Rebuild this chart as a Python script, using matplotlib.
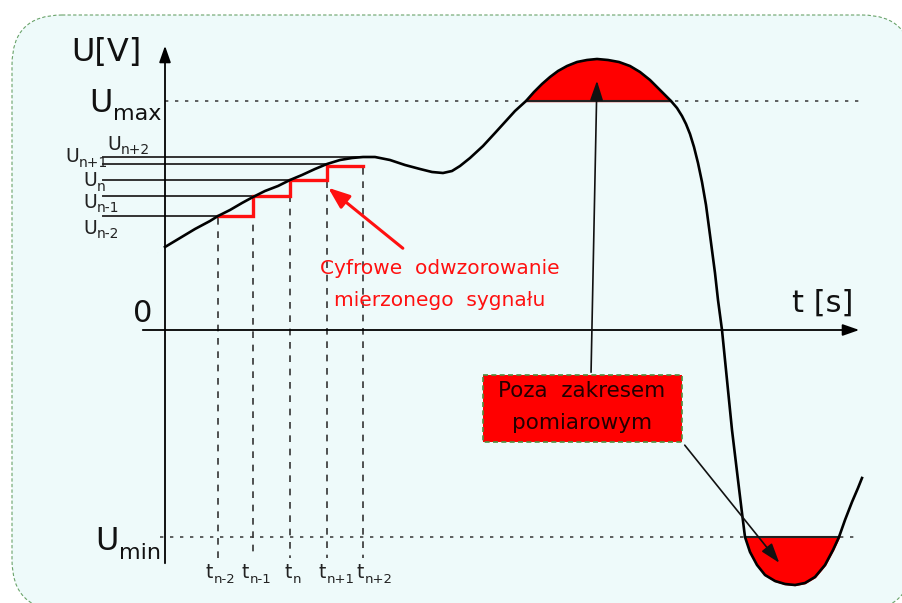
import matplotlib.pyplot as plt
import numpy as np
from matplotlib.patches import FancyBboxPatch, Rectangle

# signal curve (pixel units, y grows downwards)
curve_x = [165, 180, 195, 210, 218, 230, 242, 253, 265, 278, 290, 302, 315, 327,
           340, 352, 363, 375, 390, 405, 420, 432, 443, 452, 460, 470, 483, 495,
           505, 515, 526, 534, 542, 550, 558, 567, 577, 587, 597, 608, 619, 630,
           640, 650, 658, 665, 671, 677, 682, 686, 690, 694, 698, 702, 706, 710,
           715, 718, 722, 727, 732, 738, 742, 745, 750, 757, 765, 775, 785, 795,
           805, 815, 825, 833, 839, 845, 852, 858, 862]
curve_y = [247, 238, 229, 221, 216, 210, 203, 197, 191, 186, 180, 175, 169, 164,
           160, 158, 157, 157, 160, 165, 169, 172, 173, 171, 166, 158, 146, 133,
           122, 111, 101, 92, 84, 77, 71, 66, 62, 60, 59, 60, 62, 66,
           72, 80, 88, 95, 101, 108, 116, 124, 134, 147, 163, 182, 205, 235,
           273, 300, 330, 380, 430, 480, 513, 537, 552, 565, 575, 581, 584, 585,
           583, 577, 565, 550, 537, 520, 502, 488, 478]

# sampling instants and quantisation levels
t_pos = [218, 253, 290, 327, 363]
t_subs = ["n-2", "n-1", "n", "n+1", "n+2"]
t_label_left = [206, 242, 285, 319, 357]
levels = [216, 196, 180, 164, 157]
level_ends = [218, 253, 290, 327, 365]
level_subs = ["n-2", "n-1", "n", "n+1", "n+2"]
level_label_pos = [(83, 228), (83, 202), (83, 181), (65, 157), (107, 144)]
step_levels = [216, 196, 180, 166]

u_max = 101
u_min = 537
zero_y = 330
axis_x = 165

fig = plt.figure(figsize=(9.03, 6.03), dpi=100)
ax = fig.add_axes([0, 0, 1, 1])
ax.set_xlim(0, 903)
ax.set_ylim(603, 0)
ax.axis("off")


def sub_label(x, y, base, sub, size, sub_size, drop=3, color="#222222"):
    t = ax.text(x, y, base, fontsize=size, color=color, ha="left", va="center",
                zorder=7)
    ax.annotate(sub, xy=(1, 0), xycoords=t, xytext=(0.3, -drop),
                textcoords="offset points", fontsize=sub_size, color=color,
                ha="left", va="bottom", zorder=7)


# background panel
bg = FancyBboxPatch((12, 15), 900, 595, boxstyle="round,pad=0,rounding_size=50",
                    facecolor="#eefafa", edgecolor="#6aa36a", linewidth=0.8,
                    linestyle=(0, (3, 2)), zorder=0)
ax.add_patch(bg)

cx = np.array(curve_x)
cy = np.array(curve_y)

# out of range regions
ax.fill_between(cx, cy, u_max, where=cy <= u_max, color="#ff0000", zorder=2,
                interpolate=True)
ax.fill_between(cx, cy, u_min, where=cy >= u_min, color="#ff0000", zorder=2,
                interpolate=True)
ax.plot([526, 671], [u_max, u_max], color="#222222", lw=1.5, zorder=3)
ax.plot([745, 839], [u_min, u_min], color="#222222", lw=1.5, zorder=3)

# dotted limit lines
ax.plot([165, 860], [u_max, u_max], color="#444444", lw=1.2,
        linestyle=(0, (2, 4)), zorder=1)
ax.plot([160, 858], [u_min, u_min], color="#444444", lw=1.2,
        linestyle=(0, (2, 4)), zorder=1)

# quantisation levels
for y, xe in zip(levels, level_ends):
    ax.plot([103, xe], [y, y], color="#333333", lw=1.4, zorder=2)
for (lx, ly), s in zip(level_label_pos, level_subs):
    sub_label(lx, ly, "U", s, 13.5, 10, drop=2.5)

# sample instants
for i, x in enumerate(t_pos):
    top = step_levels[i] if i < len(step_levels) else 166
    ax.plot([x, x], [top + 2, 558], color="#333333", lw=1.2,
            linestyle=(0, (4, 4)), zorder=2)
    sub_label(t_label_left[i], 572, "t", t_subs[i], 13.5, 9.5)

# staircase (digital representation)
sx, sy = [], []
for i in range(len(step_levels)):
    sx += [t_pos[i], t_pos[i + 1]]
    sy += [step_levels[i], step_levels[i]]
ax.plot(sx, sy, color="#ff1010", lw=2.4, zorder=4, solid_joinstyle="miter")

# signal
ax.plot(cx, cy, color="black", lw=1.9, zorder=5)

# axes arrows
ax.annotate("", xy=(axis_x, 43), xytext=(axis_x, 566),
            arrowprops=dict(arrowstyle="-|>,head_length=1.0,head_width=0.35",
                            color="black", lw=1.3), zorder=6)
ax.annotate("", xy=(862, zero_y), xytext=(140, zero_y),
            arrowprops=dict(arrowstyle="-|>,head_length=1.0,head_width=0.35",
                            color="black", lw=1.3), zorder=6)

ax.text(71, 52, "U[V]", fontsize=23, ha="left", va="center", color="#111111")
sub_label(89, 103, "U", "max", 23, 16, drop=4, color="#111111")
sub_label(95, 542, "U", "min", 23, 16, drop=4, color="#111111")
ax.text(143, 313, "0", fontsize=22, ha="center", va="center", color="#111111")
ax.text(823, 303, "t [s]", fontsize=22, ha="center", va="center", color="#111111")

# red annotation
ax.annotate("", xy=(326, 186), xytext=(405, 250),
            arrowprops=dict(arrowstyle="-|>,head_length=1.3,head_width=0.5",
                            color="#ff1010", lw=2.2), zorder=6)
ax.text(440, 268, "Cyfrowe  odwzorowanie", fontsize=14.5, color="#ff1010",
        ha="center", va="center")
ax.text(440, 300, "mierzonego  sygnału", fontsize=14.5, color="#ff1010",
        ha="center", va="center")

# out of range box
ax.add_patch(Rectangle((483, 375), 199, 67, facecolor="#ff0000",
                       edgecolor="#4f8f3f", lw=1.2, linestyle=(0, (3, 2)),
                       zorder=6))
ax.text(582, 391, "Poza  zakresem", fontsize=15.5, color="#220000",
        ha="center", va="center", zorder=7)
ax.text(582, 423, "pomiarowym", fontsize=15.5, color="#220000",
        ha="center", va="center", zorder=7)
ax.annotate("", xy=(597, 78), xytext=(591, 375),
            arrowprops=dict(arrowstyle="-|>,head_length=1.2,head_width=0.4",
                            color="#111111", lw=1.2), zorder=6)
ax.annotate("", xy=(781, 565), xytext=(683, 443),
            arrowprops=dict(arrowstyle="-|>,head_length=1.2,head_width=0.4",
                            color="#111111", lw=1.2), zorder=6)

fig.savefig("out.png", dpi=100, facecolor="white")
